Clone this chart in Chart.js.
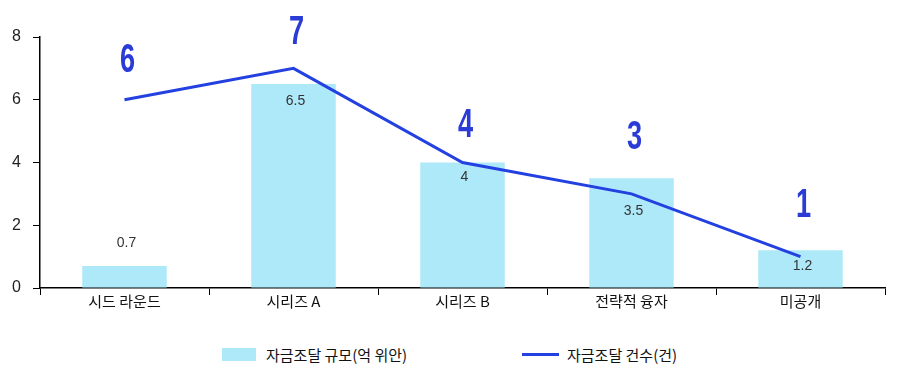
<!DOCTYPE html>
<html>
<head>
<meta charset="utf-8">
<script src="https://cdn.jsdelivr.net/npm/chart.js@4"></script>
<style>
    body { margin: 0; background: #fff; }
    #wrap { position: relative; width: 907px; height: 376px; }
    #legend { position: absolute; top: 344px; left: 0; width: 907px; font: 15px "Noto Sans CJK KR", sans-serif; color: #111; }
    .item { position: absolute; top: 0; display: flex; align-items: center; height: 20px; }
    .swatch { width: 34px; height: 13px; background: #aee9f9; margin-right: 10px; }
    .lineSw { width: 37px; height: 3px; background: #2340e0; margin-right: 8px; }
</style>
</head>
<body>
<div id="wrap">
    <canvas id="fundChart" width="907" height="318"></canvas>
    <div id="legend">
        <div class="item" style="left:222px"><span class="swatch"></span>자금조달 규모(억 위안)</div>
        <div class="item" style="left:522px"><span class="lineSw"></span>자금조달 건수(건)</div>
    </div>
</div>
<script>
const categories = ["시드 라운드", "시리즈 A", "시리즈 B", "전략적 융자", "미공개"];
const fundingAmount = [0.7, 6.5, 4, 3.5, 1.2];
const fundingCount = [6, 7, 4, 3, 1];
const yTicks = [0, 2, 4, 6, 8];

// label offsets (px) relative to the bar top / line point
const barLabelOffset = [-23, 17, 15, 33, 16];
const lineLabelOffset = [-39, -35, -37, -56, -51];

const labelPlugin = {
    id: "valueLabels",
    afterDatasetsDraw(chart) {
        const ctx = chart.ctx;
        ctx.save();
        ctx.textAlign = "center";
        ctx.textBaseline = "middle";

        const bars = chart.getDatasetMeta(0).data;
        ctx.fillStyle = "#333";
        ctx.font = "14px 'Liberation Sans', sans-serif";
        bars.forEach((bar, i) => {
            ctx.fillText(String(fundingAmount[i]), bar.x + 2, bar.y + barLabelOffset[i]);
        });

        // big condensed numbers for the line series
        const points = chart.getDatasetMeta(1).data;
        ctx.fillStyle = "#2b3bd6";
        ctx.font = "bold 40px 'Liberation Sans', sans-serif";
        points.forEach((pt, i) => {
            ctx.save();
            ctx.translate(pt.x + 3, pt.y + lineLabelOffset[i]);
            ctx.scale(0.68, 1);
            ctx.fillText(String(fundingCount[i]), 0, 0);
            ctx.restore();
        });
        ctx.restore();
    },
};

var ctx = document.getElementById("fundChart").getContext("2d");

new Chart(ctx, {
    type: "bar",
    data: {
        labels: categories,
        datasets: [
            {
                label: "자금조달 규모(억 위안)",
                data: fundingAmount,
                backgroundColor: "#aee9f9",
                barPercentage: 0.5,
                categoryPercentage: 1,
                order: 2,
            },
            {
                type: "line",
                label: "자금조달 건수(건)",
                data: fundingCount,
                borderColor: "#2340e0",
                borderWidth: 3,
                pointRadius: 0,
                tension: 0,
                order: 1,
            },
        ],
    },
    options: {
        responsive: false,
        animation: false,
        layout: {
            padding: { left: 4, right: 22, top: 37, bottom: 0 },
        },
        plugins: {
            legend: { display: false },
            tooltip: { enabled: false },
        },
        scales: {
            x: {
                afterFit: (axis) => {
                    axis.height = 30;
                },
                grid: {
                    drawOnChartArea: false,
                    tickLength: 7,
                    color: "#000",
                },
                border: { color: "#000", width: 1.5 },
                ticks: {
                    color: "#111",
                    padding: -3,
                    font: { family: "'Noto Sans CJK KR', sans-serif", size: 15 },
                },
            },
            y: {
                min: 0,
                max: 8,
                afterBuildTicks: (axis) => {
                    axis.ticks = yTicks.map((v) => ({ value: v }));
                },
                afterFit: (axis) => {
                    axis.width = 36;
                },
                grid: {
                    drawOnChartArea: false,
                    tickLength: 7,
                    color: "#000",
                },
                border: { color: "#000", width: 1.5 },
                ticks: {
                    color: "#222",
                    padding: 12,
                    font: { family: "'Liberation Sans', sans-serif", size: 16 },
                },
            },
        },
    },
    plugins: [labelPlugin],
});
</script>
</body>
</html>
